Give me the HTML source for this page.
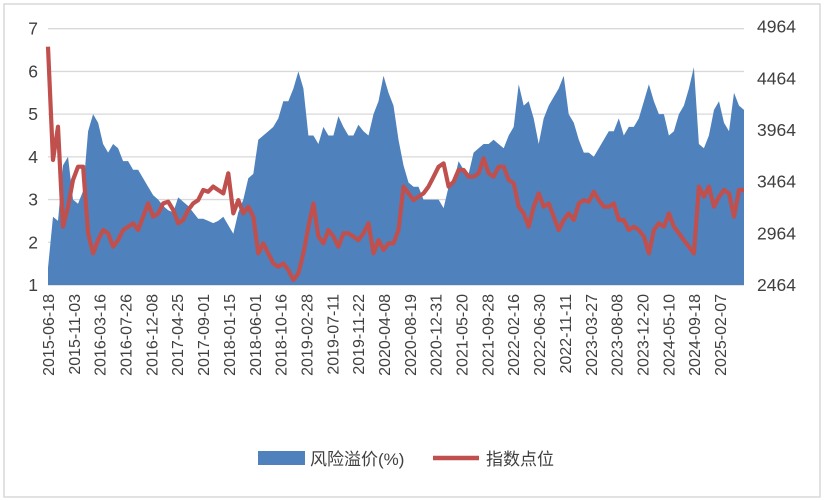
<!DOCTYPE html>
<html><head><meta charset="utf-8">
<style>
html,body{margin:0;padding:0;background:#fff;}
svg{display:block;font-family:"Liberation Sans","Noto Sans CJK SC",sans-serif;}
</style></head>
<body>
<svg id="chart" width="825" height="501" viewBox="0 0 825 501" xmlns="http://www.w3.org/2000/svg">
<rect x="4" y="4" width="816" height="493" fill="#fff" stroke="#d9d9d9" stroke-width="1.5"/>
<g id="grid"></g>
<g id="area"></g>
<g id="line"></g>
<g id="yl"></g>
<g id="yr"></g>
<g id="xl"></g>
<g>
  <rect x="258" y="451" width="47" height="14" fill="#4f81bd"/>
  <text x="310" y="465" font-size="17" fill="#404040">风险溢价(%)</text>
  <line x1="433" y1="458" x2="479" y2="458" stroke="#c0504d" stroke-width="4.5"/>
  <text x="486" y="465" font-size="17" fill="#404040">指数点位</text>
</g>
</svg>
<script>
const xLabels=["2015-06-18","2015-11-03","2016-03-16","2016-07-26","2016-12-08","2017-04-25","2017-09-01","2018-01-15","2018-06-01","2018-10-16","2019-02-28","2019-07-11","2019-11-22","2020-04-08","2020-08-19","2020-12-31","2021-05-20","2021-09-28","2022-02-16","2022-06-30","2022-11-11","2023-03-27","2023-08-08","2023-12-20","2024-05-10","2024-09-18","2025-02-07"];
const leftTicks=[1,2,3,4,5,6,7];
const rightTicks=[2464,2964,3464,3964,4464,4964];
const riskPremium=[1.4,2.6,2.5,3.8,4.0,3.0,2.9,3.2,4.6,5.0,
4.8,4.3,4.1,4.3,4.2,3.9,3.9,3.7,3.7,3.5,
3.3,3.1,3.0,2.85,2.75,2.7,3.05,2.95,2.85,2.7,
2.55,2.55,2.5,2.45,2.5,2.6,2.4,2.2,2.7,3.0,
3.5,3.6,4.4,4.5,4.6,4.7,4.9,5.3,5.3,5.6,
6.0,5.6,4.5,4.5,4.3,4.7,4.5,4.5,4.95,4.7,
4.5,4.5,4.75,4.6,4.5,5.0,5.3,5.9,5.5,5.2,
4.4,3.8,3.4,3.3,3.3,3.0,3.0,3.0,3.0,2.8,
3.3,3.4,3.9,3.7,3.6,4.1,4.2,4.3,4.3,4.4,
4.3,4.2,4.5,4.7,5.7,5.2,5.3,4.9,4.3,4.9,
5.2,5.4,5.6,5.9,5.0,4.8,4.4,4.1,4.1,4.0,
4.2,4.4,4.6,4.6,4.9,4.5,4.7,4.7,4.9,5.3,
5.7,5.3,5.0,5.0,4.5,4.6,5.0,5.2,5.6,6.1,
4.3,4.2,4.5,5.1,5.3,4.8,4.6,5.5,5.2,5.1];
const indexPoints=[4770,3674,3996,3028,3222,3480,3609,3609,2964,2770,
2899,2996,2964,2835,2899,2996,3028,3061,2996,3125,
3254,3125,3157,3254,3270,3190,3061,3093,3190,3254,
3286,3383,3367,3416,3383,3351,3545,3157,3286,3157,
3222,3125,2770,2867,2770,2673,2641,2673,2609,2512,
2577,2770,3028,3254,2932,2867,2996,2932,2835,2964,
2964,2932,2899,2964,3061,2770,2899,2803,2867,2867,
2996,3416,3351,3286,3319,3351,3416,3512,3609,3641,
3416,3464,3577,3577,3512,3512,3545,3690,3545,3512,
3609,3609,3480,3448,3222,3157,3028,3222,3351,3222,
3254,3125,2996,3093,3157,3093,3254,3286,3270,3367,
3286,3222,3222,3254,3093,3093,2996,3028,2996,2932,
2770,2996,3061,3028,3157,3028,2964,2899,2835,2770,
3416,3319,3416,3222,3319,3383,3351,3125,3383,3383];

const NS="http://www.w3.org/2000/svg";
const X0=48,X1=744,YT=28.7,YB=285;
const yL=v=>YB-(v-1)/6*(YB-YT);
const yR=v=>YB-(v-2464)/2500*(YB-26.7);
const xI=i=>X0+i*(X1-X0)/(riskPremium.length-1);
function mk(tag,attrs,parent){const e=document.createElementNS(NS,tag);for(const k in attrs)e.setAttribute(k,attrs[k]);parent.appendChild(e);return e;}

const grid=document.getElementById('grid');
leftTicks.forEach(t=>{
  const l=mk('line',{x1:X0,x2:X1,y1:yL(t),y2:yL(t),stroke:t===1?'#d0d0d0':'#d9d9d9','stroke-width':1.3},grid);
  
  
});
const yl=document.getElementById('yl');
leftTicks.forEach(t=>{
  const e=mk('text',{x:38,y:yL(t)+6,'text-anchor':'end','font-size':17.5,fill:'#404040'},yl);
  e.textContent=t;
  
  
});
const yr=document.getElementById('yr');
rightTicks.forEach(t=>{
  const e=mk('text',{x:757,y:yR(t)+6,'font-size':17.5,fill:'#404040'},yr);
  e.textContent=t;
  
  
});
const xl=document.getElementById('xl');
xLabels.forEach((t,i)=>{
  const x=X0+i*(720-X0)/(xLabels.length-1);
  const e=mk('text',{x:0,y:0,'text-anchor':'end','font-size':16,fill:'#404040',transform:`translate(${x+6},${294}) rotate(-90)`},xl);
  e.textContent=t;
  
  
});
let d=`M${xI(0)},${YB}`;
riskPremium.forEach((v,i)=>{d+=` L${xI(i).toFixed(1)},${yL(v).toFixed(1)}`;});
d+=` L${xI(riskPremium.length-1)},${YB} Z`;
const a=mk('path',{d:d,fill:'#4f81bd'},document.getElementById('area'));


let p='';
indexPoints.forEach((v,i)=>{p+=(i?' L':'M')+xI(i).toFixed(1)+','+yR(v).toFixed(1);});
const ln=mk('path',{d:p,fill:'none',stroke:'#c0504d','stroke-width':4.2,'stroke-linejoin':'round'},document.getElementById('line'));


</script>
</body></html>
